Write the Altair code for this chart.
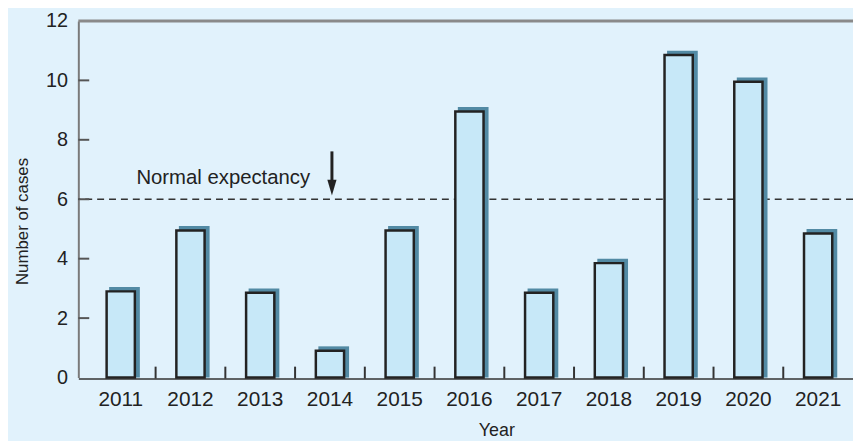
import altair as alt
import pandas as pd

# ---- data ----
years = ["2011", "2012", "2013", "2014", "2015", "2016", "2017", "2018", "2019", "2020", "2021"]
cases = [2.9, 4.95, 2.85, 0.9, 4.95, 8.95, 2.85, 3.85, 10.85, 9.95, 4.85]
y_tick_values = [0, 2, 4, 6, 8, 10, 12]
inner_y_ticks = [2, 4, 6, 8, 10]
normal_expectancy = 6
annotation_text = "Normal expectancy"
arrow_year = "2014"

df = pd.DataFrame({"year": years, "cases": cases})
tick_df = pd.DataFrame({"year": years[1:]})
ytick_df = pd.DataFrame({"v": inner_y_ticks})
one = pd.DataFrame({"a": [0]})

FONT = "Liberation Sans"
INK = "#222222"

xscale = alt.Scale(domain=years, paddingInner=0, paddingOuter=0.054, align=1)
yscale = alt.Scale(domain=[0, 12], nice=False)

xaxis = alt.Axis(
    title="Year", labelAngle=0, ticks=False, tickSize=0, labelPadding=27,
    labelBaseline="alphabetic", offset=1, domainColor="#333333", domainWidth=1.5,
    titleX=422, titleY=57, titleBaseline="alphabetic", grid=False,
    labelFontSize=21, titleFontSize=18,
)
yaxis = alt.Axis(
    title="Number of cases", values=y_tick_values, ticks=False, tickSize=0,
    labelPadding=11, domainColor="#7a7a7a", domainWidth=2, grid=False,
    titleX=-51.7, titleY=202, titleAngle=-90, titleBaseline="alphabetic",
    titleAlign="center", labelFontSize=20, titleFontSize=17,
)

top_line = alt.Chart(one).mark_rule(color="#8a8a8a", strokeWidth=3).encode(
    y=alt.datum(12, scale=yscale)
)

dashed = alt.Chart(one).mark_rule(color="#333333", strokeWidth=1.5, strokeDash=[7, 5]).encode(
    y=alt.datum(normal_expectancy)
)

shadow = alt.Chart(df).mark_bar(
    color="#528aa4", size=31, xOffset=3.8, yOffset=-4.5, y2Offset=0
).encode(
    x=alt.X("year:N", scale=xscale, axis=xaxis),
    y=alt.Y("cases:Q", scale=yscale, axis=yaxis),
    y2=alt.datum(0),
)

bars = alt.Chart(df).mark_bar(
    fill="#c7e8f8", stroke=INK, strokeWidth=2.5, size=28.5
).encode(
    x=alt.X("year:N"),
    y=alt.Y("cases:Q"),
)

y_ticks = alt.Chart(ytick_df).mark_rule(color="#555555", strokeWidth=2).encode(
    y=alt.Y("v:Q"), x=alt.value(0), x2=alt.value(11)
)

x_ticks = alt.Chart(tick_df).mark_rule(color="#333333", strokeWidth=2).encode(
    x=alt.X("year:N", bandPosition=0), y=alt.value(361), y2=alt.value(349)
)

arrow_shaft = alt.Chart(one).mark_rule(color=INK, strokeWidth=3, xOffset=2).encode(
    x=alt.datum(arrow_year), y=alt.datum(7.61), y2=alt.datum(6.6)
)

arrow_head = alt.Chart(one).mark_point(
    shape="M-0.58,-1L0.58,-1L0,1Z", size=256, filled=True, color=INK,
    opacity=1, strokeWidth=0, xOffset=2
).encode(x=alt.datum(arrow_year), y=alt.datum(6.39))

label = alt.Chart(one).mark_text(
    align="right", baseline="alphabetic", dx=-20, fontSize=20.5, color=INK, font=FONT
).encode(x=alt.datum(arrow_year), y=alt.datum(6.5), text=alt.value(annotation_text))

chart = alt.layer(
    top_line, dashed, shadow, bars, y_ticks, x_ticks, arrow_shaft, arrow_head, label
).properties(
    width=782, height=360,
    autosize=alt.AutoSizeParams(type="none"),
    padding={"left": 71, "top": 11, "right": 0, "bottom": 62},
).configure(
    background="#e1f2fc", font=FONT
).configure_view(
    stroke=None
).configure_axis(
    labelColor=INK, titleColor=INK,
    titleFontWeight="normal", labelFont=FONT, titleFont=FONT,
)

chart.save("out.html", embed_options={"renderer": "svg", "actions": False})
